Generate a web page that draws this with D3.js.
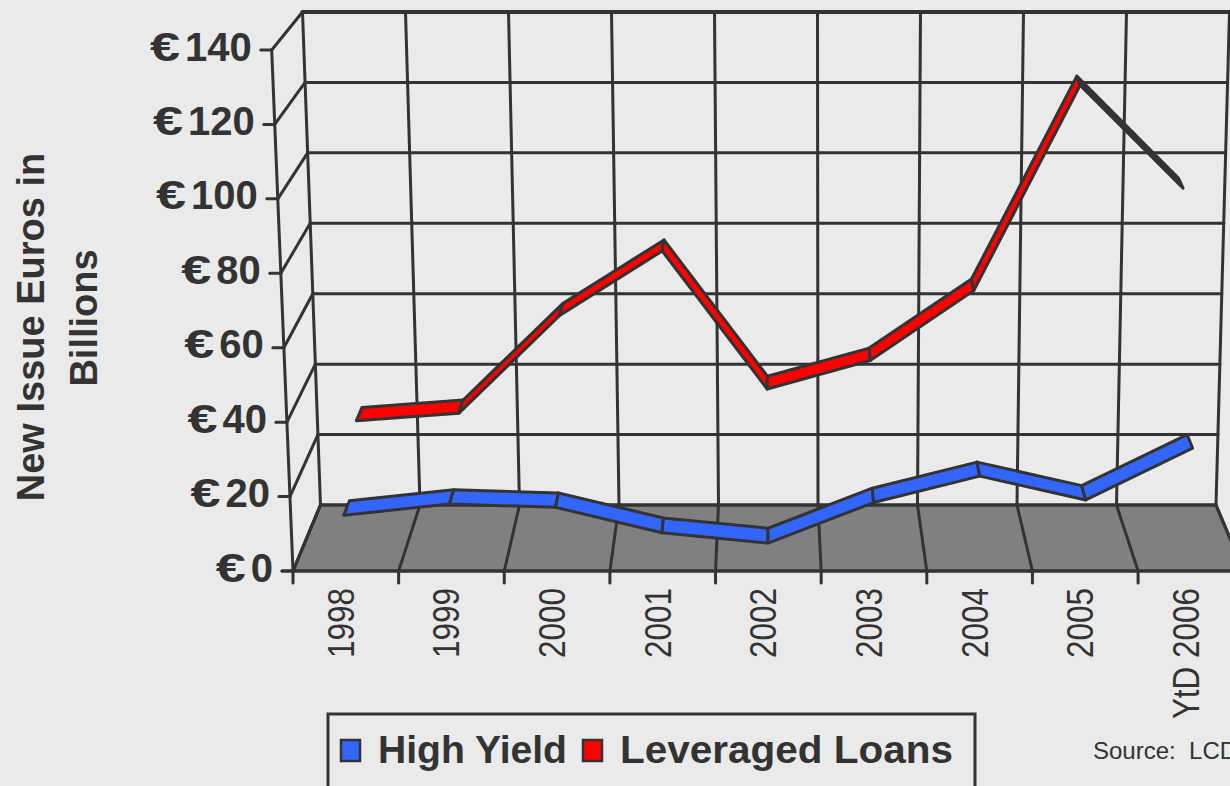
<!DOCTYPE html>
<html>
<head>
<meta charset="utf-8">
<script src="https://cdn.jsdelivr.net/npm/d3@7"></script>
<style>
  html, body { margin: 0; padding: 0; background: #eaeaea; }
  svg { display: block; font-family: "Liberation Sans", Arial, sans-serif; }
</style>
</head>
<body>
<svg id="chart" width="1230" height="786"></svg>
<script>
// Data (billions of euros)
const categories = ["1998", "1999", "2000", "2001", "2002", "2003", "2004", "2005", "YtD 2006"];
const highYield = [15.0, 18.0, 17.1, 10.3, 7.5, 18.4, 25.5, 19.1, 33.0];
const leveragedLoans = [30.9, 33.0, 60.1, 78.0, 39.7, 47.6, 67.0, 124.0, 95.4];
const yTicks = [0, 20, 40, 60, 80, 100, 120, 140];
const seriesNames = ["High Yield", "Leveraged Loans"];
const seriesColors = ["#3366ff", "#ff0000"];
// segments of the loans ribbon that face away and render dark
const loansDarkFrom = ["2005"];

const ink = "#333333";
const svg = d3.select("#chart");

// --- pseudo 3D frame: front plane (z=0) and back wall (z=1) ---
const band = d3.scaleBand().domain(categories).range([0, categories.length]);
const yFront = d3.scaleLinear().domain([0, 140]).range([571, 50]);
const yBack = d3.scaleLinear().domain([0, 140]).range([505, 12]);
const leftFront = d3.scaleLinear().domain([0, 140]).range([293, 271.7]);
const rightFront = d3.scaleLinear().domain([0, 140]).range([1243.7, 1252.7]);
const leftBack = d3.scaleLinear().domain([0, 140]).range([320.5, 302.5]);
const rightBack = d3.scaleLinear().domain([0, 140]).range([1216, 1229.5]);
const nCat = categories.length;

function project(u, v, z) {
    const t = u / nCat;
    const xf = leftFront(v) + (rightFront(v) - leftFront(v)) * t;
    const xb = leftBack(v) + (rightBack(v) - leftBack(v)) * t;
    return [xf + (xb - xf) * z, yFront(v) + (yBack(v) - yFront(v)) * z];
}
const line = d3.line();
const idx = d3.range(nCat + 1);

// floor
svg.append("path")
    .attr("d", line([project(0, 0, 0), project(nCat, 0, 0), project(nCat, 0, 1), project(0, 0, 1)]) + "Z")
    .attr("fill", "#808080")
    .attr("stroke", ink)
    .attr("stroke-width", 3)
    .attr("stroke-linejoin", "round");

const frame = svg.append("g")
    .attr("fill", "none")
    .attr("stroke", ink)
    .attr("stroke-width", 3)
    .attr("stroke-linecap", "round");

// floor dividers
idx.forEach(i => {
    frame.append("path").attr("d", line([project(i, 0, 0), project(i, 0, 1)]));
});

// back wall horizontals
yTicks.forEach(v => {
    frame.append("path")
        .attr("d", line([project(0, v, 1), project(nCat, v, 1)]))
        .attr("stroke-width", v === 140 ? 4 : 3);
});
// back wall verticals
idx.forEach(i => {
    frame.append("path").attr("d", line([project(i, 0, 1), project(i, 140, 1)]));
});

// left side wall
yTicks.forEach(v => {
    frame.append("path").attr("d", line([project(0, v, 0), project(0, v, 1)]));
});
frame.append("path").attr("d", line([project(0, 0, 0), project(0, 140, 0)]));

// front base line and ticks
const base = project(0, 0, 0);
frame.append("path").attr("d", line([[base[0] - 11, base[1]], project(nCat, 0, 0)]));
idx.forEach(i => {
    const p = project(i, 0, 0);
    frame.append("path").attr("d", line([p, [p[0], p[1] + 12]]));
});
yTicks.forEach(v => {
    const p = project(0, v, 0);
    frame.append("path").attr("d", line([p, [p[0] - 11, p[1]]]));
});

// y tick labels: number right aligned, wide euro sign in front of it
yTicks.forEach(v => {
    const p = project(0, v, 0);
    const num = svg.append("text")
        .attr("x", p[0] - 20)
        .attr("y", p[1] + 10.5)
        .attr("text-anchor", "end")
        .attr("font-size", 40)
        .attr("font-weight", "bold")
        .attr("fill", ink)
        .text(v);
    const w = num.node().getComputedTextLength();
    const ex = p[0] - 20 - w - 5;
    svg.append("text")
        .attr("transform", `translate(${ex},${p[1] + 10.5}) scale(1.35,1)`)
        .attr("text-anchor", "end")
        .attr("font-size", 40)
        .attr("font-weight", "bold")
        .attr("fill", ink)
        .text("€");
});

// x labels (condensed, rotated)
categories.forEach(c => {
    const p = project(band(c) + band.bandwidth() / 2, 0, 0);
    svg.append("text")
        .attr("transform", `translate(${p[0] + 8},588) rotate(-90) scale(0.85,1)`)
        .attr("text-anchor", "end")
        .attr("font-size", 37)
        .attr("fill", ink)
        .text(c);
});

// y axis title
svg.append("text")
    .attr("transform", "translate(44,327) rotate(-90)")
    .attr("text-anchor", "middle")
    .attr("font-size", 38)
    .attr("font-weight", "bold")
    .attr("fill", ink)
    .text("New Issue Euros in");
svg.append("text")
    .attr("transform", "translate(97,318) rotate(-90)")
    .attr("text-anchor", "middle")
    .attr("font-size", 38)
    .attr("font-weight", "bold")
    .attr("fill", ink)
    .text("Billions");

// --- ribbons ---
function drawRibbon(values, z0, z1, color, darkFrom) {
    const segs = d3.range(values.length - 1).map(k => {
        const u1 = band(categories[k]) + band.bandwidth() / 2;
        const u2 = band(categories[k + 1]) + band.bandwidth() / 2;
        return {
            pts: [project(u1, values[k], z0), project(u2, values[k + 1], z0),
                  project(u2, values[k + 1], z1), project(u1, values[k], z1)],
            dark: darkFrom.includes(categories[k])
        };
    });
    svg.append("g").selectAll("path")
        .data(segs)
        .join("path")
        .attr("d", d => line(d.pts) + "Z")
        .attr("fill", d => d.dark ? ink : color)
        .attr("stroke", ink)
        .attr("stroke-width", 3)
        .attr("stroke-linejoin", "round");
}
drawRibbon(leveragedLoans, 0.59, 0.81, seriesColors[1], loansDarkFrom);
drawRibbon(highYield, 0, 0.23, seriesColors[0], []);

// --- legend ---
svg.append("rect")
    .attr("x", 328).attr("y", 714)
    .attr("width", 647).attr("height", 100)
    .attr("fill", "none")
    .attr("stroke", ink)
    .attr("stroke-width", 3);

const legendX = [341, 583];
const legendTextLen = [189, 333];
seriesNames.forEach((name, i) => {
    svg.append("rect")
        .attr("x", legendX[i]).attr("y", 740)
        .attr("width", 19).attr("height", 21)
        .attr("fill", seriesColors[i])
        .attr("stroke", ink)
        .attr("stroke-width", 2.5);
    svg.append("text")
        .attr("x", legendX[i] + 37)
        .attr("y", 763)
        .attr("font-size", 39)
        .attr("font-weight", "bold")
        .attr("fill", ink)
        .attr("textLength", legendTextLen[i])
        .attr("lengthAdjust", "spacingAndGlyphs")
        .text(name);
});

svg.append("text")
    .attr("x", 1093).attr("y", 759)
    .attr("font-size", 24)
    .attr("fill", ink)
    .attr("xml:space", "preserve")
    .style("white-space", "pre")
    .text("Source:  LCD");
</script>
</body>
</html>
